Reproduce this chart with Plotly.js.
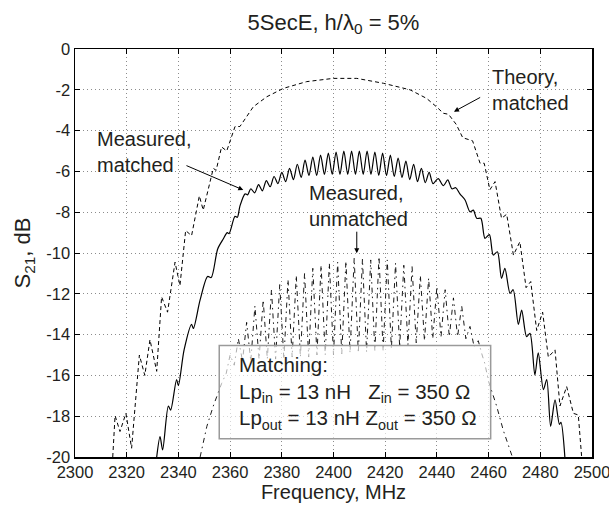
<!DOCTYPE html>
<html>
<head>
<meta charset="utf-8">
<script src="https://cdn.plot.ly/plotly-3.0.1.min.js"></script>
<style>html,body{margin:0;padding:0;background:#fff;}#chart{width:609px;height:508px;}</style>
</head>
<body>
<div id="chart"></div>
<script>
// ---- data ----
const theoryFreq = [2314.6,2315.5,2317.4,2319.7,2321.9,2324.9,2327.0,2329.0,2331.6,2333.5,2335.8,2338.7,2340.6,2342.8,2345.1,2348.1,2349.6,2353.5,2354.6,2356.7,2358.7,2361.9,2363.8,2369.0,2374.2,2380.6,2389.6,2399.9,2409.0,2419.3,2429.6,2436.0,2440.0,2442.5,2444.5,2447.5,2450.0,2452.5,2453.8,2456.7,2458.3,2460.5,2462.5,2465.0,2467.0,2469.6,2472.1,2474.5,2476.3,2478.6,2480.9,2483.1,2485.7,2487.6,2490.2,2492.8,2494.7,2496.0];
const theoryDb = [-20,-17.97,-18.75,-17.86,-19.57,-15.0,-16.0,-14.25,-15.8,-12.15,-12.9,-10.45,-11.6,-8.9,-9.15,-7.2,-7.9,-5.85,-5.95,-4.8,-5.0,-3.8,-3.8,-2.83,-2.34,-1.93,-1.6,-1.44,-1.44,-1.68,-2.0,-2.42,-2.85,-3.15,-3.2,-3.7,-4.35,-4.45,-4.5,-5.6,-5.6,-6.9,-6.5,-8.3,-8.1,-10.1,-9.45,-11.7,-11.4,-13.8,-12.9,-15.1,-14.75,-17.5,-16.55,-17.86,-17.94,-20];

const matchedFreq = [2331.6,2332.9,2333.9,2336.1,2337.0,2339.3,2340.0,2342.2,2345.1,2345.8,2348.4,2351.3,2352.7,2355.2,2357.4,2358.9,2359.6,2361.9,2362.8,2363.8,2365.8,2366.8,2368.0,2369.5,2371.0,2372.5,2374.0,2375.5,2377.0,2378.5,2380.0,2381.5,2383.0,2384.5,2386.0,2387.5,2389.0,2390.5,2392.0,2393.5,2395.0,2396.5,2398.0,2399.5,2401.0,2402.5,2404.0,2405.5,2407.0,2408.5,2410.0,2411.5,2413.0,2414.5,2416.0,2417.5,2419.0,2420.5,2422.0,2423.5,2425.0,2426.5,2428.0,2429.5,2431.0,2432.5,2434.0,2435.5,2437.0,2438.5,2440.5,2442.5,2444.2,2445.8,2447.3,2448.9,2450.9,2452.8,2454.1,2455.4,2457.0,2458.6,2460.3,2461.8,2463.4,2465.0,2466.3,2468.3,2469.5,2471.5,2472.8,2474.7,2476.0,2477.9,2479.2,2481.2,2482.5,2484.0,2485.7,2487.4,2488.0,2489.5];
const matchedDb = [-20,-19.0,-19.65,-17.5,-17.7,-16.2,-16.5,-14.75,-13.5,-13.7,-12.3,-11.15,-11.2,-9.8,-9.3,-9.0,-9.05,-8.2,-8.25,-7.7,-7.1,-7.15,-6.85,-7.05,-6.65,-6.95,-6.45,-6.75,-6.25,-6.6,-6.05,-6.5,-5.85,-6.4,-5.65,-6.3,-5.45,-6.2,-5.3,-6.2,-5.2,-6.15,-5.1,-6.15,-5.05,-6.15,-5.0,-6.15,-5.0,-6.15,-5.0,-6.15,-5.0,-6.15,-5.05,-6.2,-5.1,-6.2,-5.2,-6.25,-5.35,-6.3,-5.5,-6.4,-5.65,-6.5,-5.85,-6.55,-6.05,-6.6,-6.35,-6.7,-6.42,-6.85,-6.8,-7.1,-7.4,-7.98,-7.9,-8.3,-8.3,-9.28,-9.1,-10.1,-9.94,-11.24,-10.75,-11.98,-11.8,-13.5,-12.8,-14.1,-13.94,-15.98,-14.9,-16.7,-16.2,-18.5,-17.2,-18.4,-18.3,-20];

const unmatchedFreq = [2348.4,2351.0,2353.5,2356.7,2358.5,2360.0,2361.6,2363.2,2364.8,2366.4,2368.0,2369.6,2371.2,2372.8,2374.4,2376.0,2377.6,2379.2,2380.8,2382.4,2384.0,2385.6,2387.2,2388.8,2390.4,2392.0,2393.6,2395.2,2396.8,2398.4,2400.0,2401.6,2403.2,2404.8,2406.4,2408.0,2409.6,2411.2,2412.8,2414.4,2416.0,2417.6,2419.2,2420.8,2422.4,2424.0,2425.6,2427.2,2428.8,2430.4,2432.0,2433.6,2435.2,2436.8,2438.4,2440.0,2441.6,2443.2,2444.8,2446.4,2448.0,2449.6,2451.2,2452.8,2454.4,2456.0,2457.5,2458.5,2460.0,2463.1,2465.7,2468.3,2469.2];
const unmatchedDb = [-20,-18.5,-17.5,-16.4,-15.9,-15.0,-15.5,-14.2,-15.3,-13.4,-15.3,-12.6,-15.2,-12.3,-15.2,-11.8,-15.2,-11.55,-15.2,-11.3,-15.1,-11.1,-15.1,-11.0,-15.1,-10.75,-15.0,-10.6,-15.0,-10.5,-15.0,-10.45,-14.95,-10.4,-14.9,-10.26,-14.9,-10.3,-14.85,-10.34,-14.8,-10.18,-14.8,-10.34,-14.7,-10.5,-14.6,-10.6,-14.5,-10.67,-14.4,-11.1,-14.3,-11.24,-14.2,-11.65,-14.1,-11.8,-14.1,-12.2,-14.1,-12.6,-14.2,-13.6,-14.6,-14.3,-15.0,-15.4,-16.3,-17.5,-18.7,-19.7,-20];

const xTickVals = [2300,2320,2340,2360,2380,2400,2420,2440,2460,2480,2500];
const xTickText = ['2300','2320','2340','2360','2380','2400','2420','2440','2460','2480','2500'];
const yTickVals = [0,-2,-4,-6,-8,-10,-12,-14,-16,-18,-20];
const yTickText = ['0','-2','-4','-6','-8','-10','-12','-14','-16','-18','-20'];

const FONT = '"Liberation Sans", Arial, Helvetica, sans-serif';
const INK = '#231f20';
const NB = '\u00A0';

const traces = [
  {x: unmatchedFreq, y: unmatchedDb, mode: 'lines', name: 'Measured, unmatched',
   line: {color: '#000', width: 0.9, dash: '5px,4px,1.5px,4px'}},
  {x: matchedFreq, y: matchedDb, mode: 'lines', name: 'Measured, matched',
   line: {color: '#000', width: 1.2, shape: 'spline', smoothing: 0.8}},
  {x: theoryFreq, y: theoryDb, mode: 'lines', name: 'Theory, matched',
   line: {color: '#000', width: 1, dash: '4px,3px'}}
];

const axisCommon = {
  showline: true, linecolor: '#000', linewidth: 1.5, mirror: 'allticks',
  ticks: 'inside', ticklen: 5, tickwidth: 1, tickcolor: '#000',
  showgrid: true, gridcolor: '#8c8c8c', gridwidth: 1, griddash: '1px,3px',
  zeroline: false, tickmode: 'array', automargin: false, ticklabeloverflow: 'allow',
  tickfont: {family: FONT, size: 16.5, color: INK}
};

const layout = {
  width: 609, height: 508,
  margin: {l: 75, r: 17, t: 49, b: 51, pad: 0},
  paper_bgcolor: '#fff', plot_bgcolor: '#fff',
  showlegend: false,
  font: {family: FONT, color: INK},
  title: {text: '5SecE, h/λ<sub>0</sub> = 5%', font: {family: FONT, size: 22, color: INK},
          x: 0.5, xref: 'paper', y: 1 - 22/508, yref: 'container', yanchor: 'middle'},
  xaxis: Object.assign({}, axisCommon, {
    range: [2300, 2500], tickvals: xTickVals, ticktext: xTickText, ticklabelshift: -1.5,
    title: {text: 'Frequency, MHz', font: {family: FONT, size: 20, color: INK}, standoff: 4}
  }),
  yaxis: Object.assign({}, axisCommon, {
    range: [-20, 0], tickvals: yTickVals, ticktext: yTickText,
    title: {text: 'S<sub>21</sub>, dB', font: {family: FONT, size: 22, color: INK}, standoff: 9}
  }),
  shapes: [
    {type: 'rect', xref: 'x', yref: 'y', x0: 2355.8, x1: 2460.8, y0: -19.1, y1: -14.54,
     line: {color: '#9a9a9a', width: 1.5}, fillcolor: 'rgba(255,255,255,0.65)', layer: 'above'}
  ],
  annotations: [
    {xref: 'x', yref: 'y', x: 2460.5, y: -2.0, xanchor: 'left', yanchor: 'middle', align: 'left',
     text: 'Theory,<br>matched', showarrow: false, font: {family: FONT, size: 20, color: INK}},
    {xref: 'x', yref: 'y', x: 2446.6, y: -3.07, ax: 27.7, ay: -15, text: '', showarrow: true,
     arrowhead: 2, arrowsize: 1, arrowwidth: 1, arrowcolor: '#000'},
    {xref: 'x', yref: 'y', x: 2307.7, y: -5.07, xanchor: 'left', yanchor: 'middle', align: 'left',
     text: 'Measured,<br>matched', showarrow: false, font: {family: FONT, size: 20, color: INK}},
    {xref: 'x', yref: 'y', x: 2365.1, y: -6.91, ax: -58.3, ay: -25, text: '', showarrow: true,
     arrowhead: 2, arrowsize: 1, arrowwidth: 1, arrowcolor: '#000'},
    {xref: 'x', yref: 'y', x: 2389.6, y: -7.69, xanchor: 'left', yanchor: 'middle', align: 'left',
     text: 'Measured,<br>unmatched', showarrow: false, font: {family: FONT, size: 20, color: INK}},
    {xref: 'x', yref: 'y', x: 2409.0, y: -10.01, ax: 0, ay: -23, text: '', showarrow: true,
     arrowhead: 2, arrowsize: 1, arrowwidth: 1, arrowcolor: '#000'},
    {xref: 'x', yref: 'y', x: 2362.5, y: -16.84, xanchor: 'left', yanchor: 'middle', align: 'left',
     text: 'Matching:<br>Lp<sub>in</sub> = 13 nH' + NB + NB + ' Z<sub>in</sub> = 350 Ω<br>Lp<sub>out</sub> = 13 nH Z<sub>out</sub> = 350 Ω',
     showarrow: false, font: {family: FONT, size: 20.5, color: INK}}
  ]
};

Plotly.newPlot('chart', traces, layout, {staticPlot: true, displayModeBar: false});
</script>
</body>
</html>
